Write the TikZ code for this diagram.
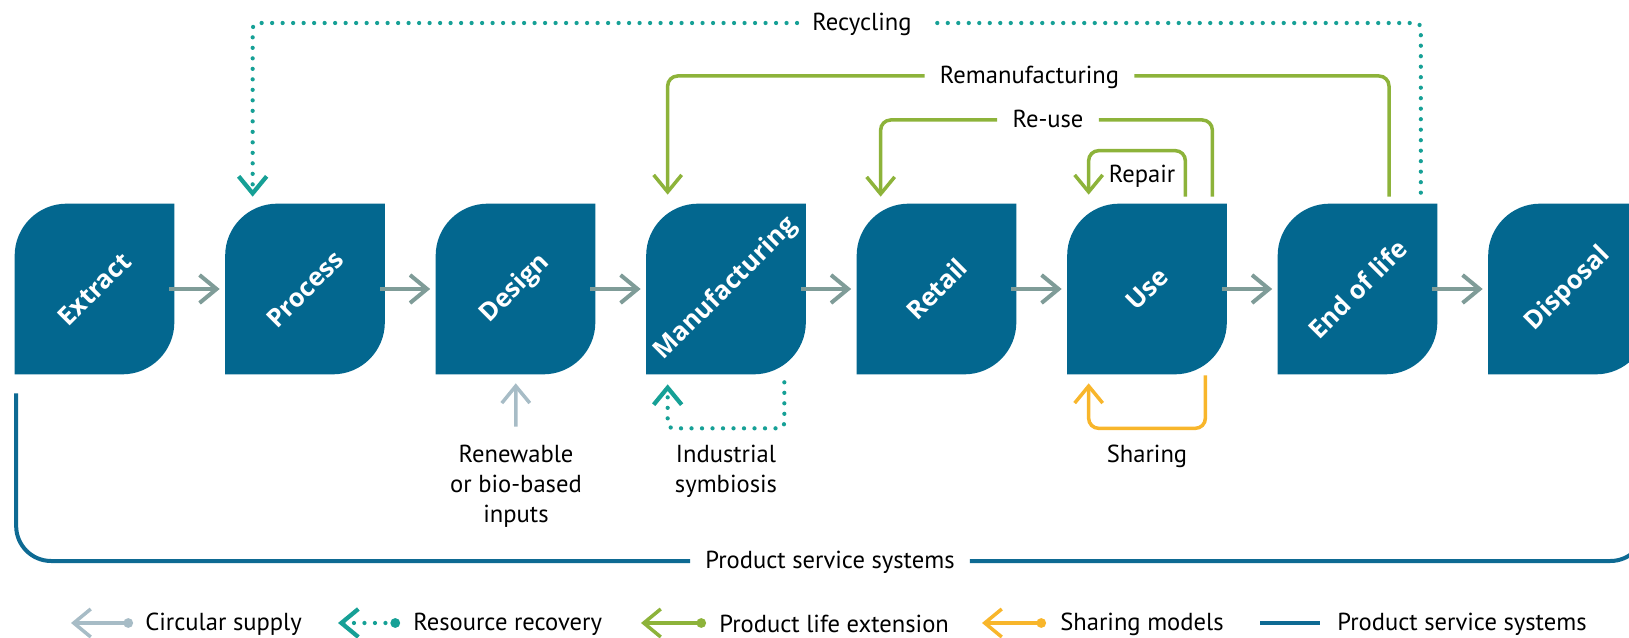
\documentclass[tikz,border=0pt]{standalone}
\usepackage{fontspec}
\setmainfont{PT Sans}
\newfontfamily\stagefont{Open Sans}
\usepackage{tikz}
\usetikzlibrary{arrows.meta,positioning,calc,backgrounds}
\definecolor{stageblue}{HTML}{03678F}
\definecolor{flowgray}{HTML}{7F9C98}
\definecolor{supplygray}{HTML}{A7BCC6}
\definecolor{recoveryteal}{HTML}{16A096}
\definecolor{lifegreen}{HTML}{8DB33A}
\definecolor{shareyellow}{HTML}{F8B62B}
\definecolor{pssblue}{HTML}{0E6A93}
\tikzset{stage/.style={rectangle,inner sep=0pt,minimum width=3.18cm,minimum height=3.4cm,text=white,font=\stagefont\bfseries\fontsize{14.5}{17}\selectfont}}
\tikzset{looplabel/.style={inner xsep=0.3cm,inner ysep=0pt,text height=0.8em,text depth=0pt}}
\tikzset{note/.style={inner sep=0pt}}
\tikzset{stageflow/.style={draw=flowgray,line width=0.08cm,->,shorten <=-0.1cm,shorten >=0.11cm}}
\tikzset{life/.style={draw=lifegreen,line width=0.07cm,rounded corners=0.2cm}}
\tikzset{recovery/.style={draw=recoveryteal,line width=0.085cm,line cap=round,dash pattern=on 0pt off 0.21cm,rounded corners=0.1cm}}
\tikzset{share/.style={draw=shareyellow,line width=0.07cm,rounded corners=0.2cm}}
\tikzset{supply/.style={draw=supplygray,line width=0.07cm}}
\tikzset{pssline/.style={draw=pssblue,line width=0.08cm,rounded corners=0.7cm}}
\tikzset{keytip/.style={arrows={Straight Barb[length=3.4mm,width=5.6mm]-Circle[length=1.9mm]}}}

\begin{document}
\begin{tikzpicture}[x=0.02cm, y=-0.02cm, >={Straight Barb[length=3.4mm,width=5.6mm]}, font=\fontsize{14}{17}\selectfont]
    \useasboundingbox (0,0) rectangle (1629,638);
    \node[stage] (extract) at (94.5,289) {\rotatebox{45}{Extract}};
    \node[stage] (process) at (305,289) {\rotatebox{45}{Process}};
    \node[stage] (design) at (515.5,289) {\rotatebox{45}{Design}};
    \node[stage] (manufacturing) at (726,289) {\rotatebox{45}{Manufacturing}};
    \node[stage] (retail) at (936.5,289) {\rotatebox{45}{Retail}};
    \node[stage] (use) at (1147,289) {\rotatebox{45}{Use}};
    \node[stage] (endlife) at (1357.5,289) {\rotatebox{45}{End of life}};
    \node[stage] (disposal) at (1568,289) {\rotatebox{45}{Disposal}};
    \begin{scope}[on background layer]
        \foreach \s in {extract,process,design,manufacturing,retail,use,endlife,disposal}
            \fill[stageblue] (\s.south west) -- ([yshift=-1.04cm]\s.north west) arc[start angle=180,end angle=90,radius=1.04cm]
                -- (\s.north east) -- ([yshift=1.04cm]\s.south east) arc[start angle=0,end angle=-90,radius=1.04cm] -- cycle;
    \end{scope}

    \path[stageflow] (extract) edge (process) (process) edge (design) (design) edge (manufacturing)
        (manufacturing) edge (retail) (retail) edge (use) (use) edge (endlife) (endlife) edge (disposal);

    \node[looplabel] (recycling) at (862,23) {Recycling};
    \node[looplabel] (reman) at (1029.5,76) {Remanufacturing};
    \node[looplabel] (reuse) at (1048,120) {Re-use};
    \node[note] (repair) at (1142,176) {Repair};
    \node[note] (sharing) at (1147,456) {Sharing};
    \node[note,align=center] (symbiosis) at (726,471) {Industrial\\symbiosis};
    \node[note,align=center] (renewable) at (516,486) {Renewable\\or bio-based\\inputs};
    \node[looplabel] (pss) at (830,561) {Product service systems};

    \draw[recovery,->] ([xshift=-0.33cm,yshift=0.22cm]endlife.north east) |- (recycling) -| ([xshift=0.55cm,yshift=0.14cm]process.north west);
    \draw[life,->] ([xshift=0.63cm,yshift=0.14cm]endlife.north) |- (reman) -| ([xshift=0.43cm,yshift=0.18cm]manufacturing.north west);
    \draw[life,->] ([xshift=-0.29cm,yshift=0.14cm]use.north east) |- (reuse) -| ([xshift=0.48cm,yshift=0.14cm]retail.north west);
    \draw[life,->] ([xshift=-0.83cm,yshift=0.14cm]use.north east) -- ++(0,-46) -| ([xshift=0.43cm,yshift=0.18cm]use.north west);
    \draw[recovery,->] ([xshift=-0.43cm,yshift=-0.16cm]manufacturing.south east) -- ++(0,46) -| ([xshift=0.43cm,yshift=-0.2cm]manufacturing.south west);
    \draw[share,->] ([xshift=-0.43cm,yshift=-0.02cm]use.south east) -- ++(0,53) -| ([xshift=0.43cm,yshift=-0.18cm]use.south west);
    \draw[supply,->,shorten <=0.36cm,shorten >=0.18cm] (renewable) -- (design);
    \draw[pssline] ([xshift=0.03cm,yshift=-0.38cm]extract.south west) |- (pss) -| ([xshift=-0.05cm,yshift=-0.4cm]disposal.south east);

    \node[note,anchor=west] (circular) at (145,624) {Circular supply};
    \node[note,anchor=west] (resource) at (413,624) {Resource recovery};
    \node[note,anchor=west] (extension) at (719,624) {Product life extension};
    \node[note,anchor=west] (models) at (1060,624) {Sharing models};
    \node[note,anchor=west] (systems) at (1337,624) {Product service systems};
    \coordinate (keycircular) at (71,623);
    \coordinate (keyresource) at (338,623);
    \coordinate (keyextension) at (641,623);
    \coordinate (keymodels) at (982,623);
    \coordinate (keysystems) at (1260,623);
    \draw[supply,keytip] (keycircular) -- ([xshift=-0.24cm]keycircular -| circular.west);
    \draw[recovery,keytip] (keyresource) -- ([xshift=-0.26cm]keyresource -| resource.west);
    \draw[life,keytip] (keyextension) -- ([xshift=-0.26cm]keyextension -| extension.west);
    \draw[share,keytip] (keymodels) -- ([xshift=-0.28cm]keymodels -| models.west);
    \draw[pssline] (keysystems) -- ([xshift=-0.34cm]keysystems -| systems.west);
\end{tikzpicture}
\end{document}
